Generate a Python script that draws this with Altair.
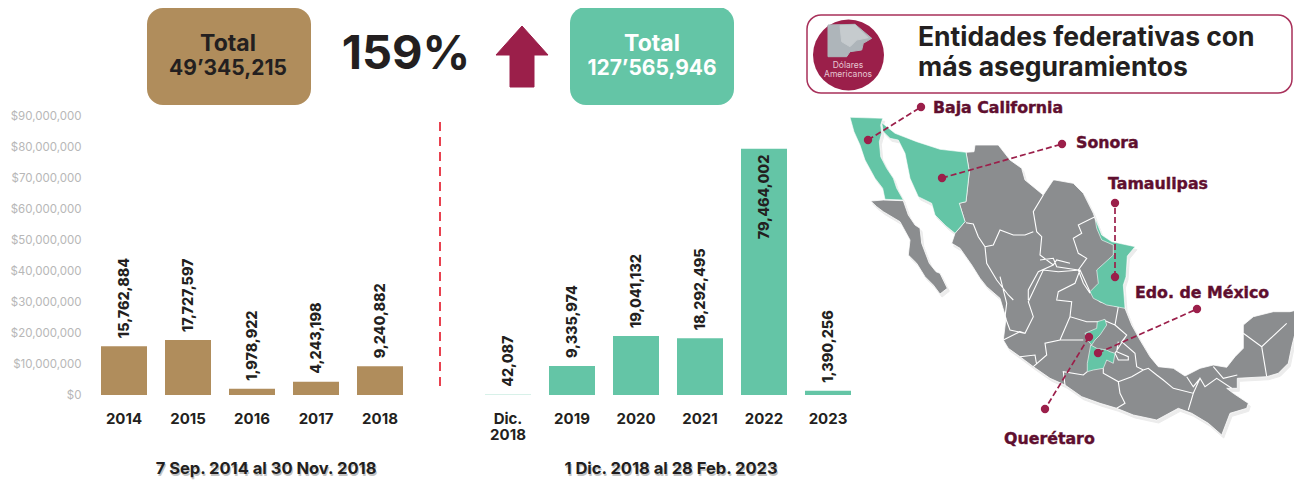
import altair as alt
import pandas as pd

FONT = "Inter"
WIDE = "DejaVu Sans"
OX, OY = 92, 116
BROWN, TEAL, CRIMSON, WINE, DARK = "#b08d5c", "#64c5a6", "#9b1f4a", "#5f0f2f", "#231f20"
GREY = "#8b8d8f"

# ---- bar data
categories = ["2014", "2015", "2016", "2017", "2018", " ", "Dic. 2018", "2019", "2020", "2021", "2022", "2023"]
values = [15762884, 17727597, 1978922, 4243198, 9240882, None, 42087, 9335974, 19041132, 18292495, 79464002, 1390256]
colors = [BROWN] * 6 + [TEAL] * 6
labels = ["15,762,884", "17,727,597", "1,978,922", "4,243,198", "9,240,882", "", "42,087", "9,335,974",
          "19,041,132", "18,292,495", "79,464,002", "1,390,256"]
bars = pd.DataFrame({"cat": categories, "val": values, "col": colors, "lab": labels}).dropna()

# ---- traced map outlines; three reference frames (origin of trace, 3x)
A, B, C = (840, 100), (1000, 260), (1040, 170)
def P(o, pts):
    return [[round(o[0] + x / 3, 1), round(o[1] + y / 3, 1)] for x, y in pts]

main_land = (
    P(A, [(378, 157), (402, 155), (405, 135), (475, 135), (510, 180), (545, 205), (555, 240), (610, 285), (640, 240)])
    + P(C, [(45, 30), (100, 40), (130, 70), (160, 130), (165, 145), (185, 195), (215, 215), (285, 230), (262, 258), (258, 320), (250, 345), (255, 415)])
    + P(B, [(395, 195), (420, 240), (450, 290), (475, 320), (520, 325), (555, 348), (600, 325), (640, 315), (680, 322), (705, 290), (730, 265),
            (730, 195), (760, 170), (820, 155), (870, 155), (890, 150), (905, 165), (890, 200), (875, 260), (865, 310), (835, 340), (800, 350),
            (712, 355), (712, 385), (680, 385), (700, 400), (745, 430), (740, 445), (690, 460), (665, 525), (625, 490), (575, 460), (535, 445),
            (470, 480), (400, 465), (350, 445), (300, 430), (245, 410), (195, 375), (150, 355), (100, 320), (60, 290), (25, 265), (10, 240), (18, 175)])
    + P(A, [(480, 595), (440, 560), (420, 535), (395, 495), (360, 445), (335, 430), (345, 400), (375, 365), (358, 310), (378, 305), (388, 215)])
)
baja_sur = P(A, [(92, 303), (130, 300), (190, 302), (205, 345), (225, 375), (240, 385), (245, 430), (268, 490), (288, 515), (300, 520),
                 (322, 565), (300, 582), (280, 555), (255, 530), (230, 490), (205, 465), (210, 420), (180, 365), (130, 335), (110, 320)])
baja_california = P(A, [(30, 52), (128, 55), (122, 75), (125, 100), (118, 125), (122, 170), (140, 205), (160, 235), (170, 265), (190, 300),
                        (135, 298), (128, 265), (105, 235), (75, 180), (60, 135), (42, 95)])
sonora = P(A, [(125, 68), (165, 100), (230, 125), (300, 148), (378, 157), (388, 215), (378, 305), (358, 310), (375, 365), (345, 400),
               (318, 378), (285, 345), (275, 310), (235, 290), (210, 235), (195, 160), (175, 120), (150, 115), (130, 95)])
tamaulipas = P(C, [(165, 145), (185, 195), (215, 215), (285, 230), (262, 258), (258, 320), (250, 345), (255, 415), (200, 405), (160, 385),
                   (150, 365), (175, 340), (170, 300), (220, 255), (220, 225), (185, 210), (170, 175)])
queretaro = P(B, [(255, 220), (290, 205), (292, 185), (315, 178), (320, 195), (300, 225), (285, 240), (275, 255), (262, 240)])
edomex = P(B, [(272, 255), (290, 265), (320, 270), (330, 275), (345, 280), (340, 310), (320, 300), (310, 325), (280, 330), (262, 335), (262, 310)])

state_lines = [
    P(A, [(378, 368), (400, 372), (415, 410), (435, 440), (440, 490), (470, 540), (505, 585), (520, 600)]),
    P(A, [(610, 285), (580, 335), (590, 395), (605, 410), (600, 465), (640, 495), (650, 480), (690, 490)]),
    P(A, [(435, 440), (460, 435), (480, 390), (520, 405), (555, 405), (580, 395)]),
    P(A, [(640, 495), (595, 515), (565, 570), (565, 600)]),
    P(C, [(165, 140), (115, 165), (125, 190), (100, 205), (115, 250), (140, 265), (115, 300), (130, 340), (150, 370)]),
    P(C, [(0, 270), (40, 265), (50, 290), (115, 300)]),
    P(B, [(0, 50), (20, 130), (15, 170), (30, 210), (75, 220), (100, 170), (85, 125), (130, 30), (175, 35), (240, 30), (225, 70),
          (175, 95), (170, 120), (215, 125), (210, 170), (260, 185), (300, 185)]),
    P(B, [(240, 30), (270, 95), (300, 125), (355, 140), (345, 195), (310, 180)]),
    P(B, [(10, 240), (60, 215), (75, 220)]),
    P(B, [(210, 170), (180, 240), (135, 250), (140, 285), (100, 320)]),
    P(B, [(60, 290), (105, 285), (110, 315)]),
    P(B, [(180, 240), (250, 240)]),
    P(B, [(262, 335), (250, 345), (190, 335), (195, 375)]),
    P(B, [(310, 325), (310, 340), (355, 365), (360, 400), (375, 430), (350, 445)]),
    P(B, [(355, 365), (395, 350), (430, 330), (445, 325), (470, 345), (490, 360), (520, 385), (580, 400), (565, 450)]),
    P(B, [(345, 195), (380, 225), (365, 245), (405, 280), (410, 320), (430, 330)]),
    P(B, [(580, 400), (600, 355), (615, 380), (650, 355), (695, 385)]),
    P(B, [(560, 350), (580, 380), (600, 355)]),
    P(B, [(640, 320), (670, 355), (712, 345)]),
    P(B, [(730, 220), (785, 260), (860, 190)]),
    P(B, [(785, 260), (800, 350)]),
    P(B, [(355, 245), (350, 275), (385, 290), (385, 300), (355, 300), (345, 280)]),
    P(B, [(345, 280), (380, 225)]),
]

# ---- callouts: marker on the state, marker at the end of the leader, label
callouts = [
    ("Baja California", (868, 140), (921, 107), (933, 108)),
    ("Sonora", (942, 178), (1062, 144), (1076, 143)),
    ("Tamaulipas", (1115, 277), (1115, 203), (1108, 184)),
    ("Edo. de México", (1098, 353), (1197, 309), (1135, 293)),
    ("Querétaro", (1089, 337), (1045, 409), (1004, 439)),
]
arrow = [[496, 55], [522, 26], [548, 55], [534, 55], [534, 87], [510, 87], [510, 55]]
coin_photo = P((800, 5), [(84, 60), (165, 58), (215, 100), (190, 115), (185, 135), (150, 140), (140, 155), (84, 155)])
coin_light = P((800, 5), [(120, 62), (165, 60), (205, 98), (170, 105), (150, 125), (125, 110)])

PROJ = dict(type="identity", scale=1, translate=[-OX, -OY])

def poly(pts, fill, stroke=None, sw=1.0):
    f = {"type": "Feature", "properties": {}, "geometry": {"type": "Polygon", "coordinates": [pts + [pts[0]]]}}
    kw = dict(fill=fill, strokeWidth=sw, stroke=stroke or fill, clip=False)
    return alt.Chart(alt.Data(values=[f])).mark_geoshape(**kw).project(**PROJ)

def lines(ls, stroke, sw, dash=None):
    f = {"type": "Feature", "properties": {}, "geometry": {"type": "MultiLineString", "coordinates": ls}}
    kw = dict(filled=False, stroke=stroke, strokeWidth=sw, clip=False)
    if dash:
        kw["strokeDash"] = dash
    return alt.Chart(alt.Data(values=[f])).mark_geoshape(**kw).project(**PROJ)

def text(s, x, y, size, color=DARK, align="center", weight=700, font=FONT, heavy=0):
    d = pd.DataFrame({"t": [s], "x": [x], "y": [y]})
    kw = dict(stroke=color, strokeWidth=heavy) if heavy else {}
    return alt.Chart(d).mark_text(font=font, fontSize=size, color=color, align=align, baseline="middle", fontWeight=weight, clip=False, **kw).encode(
        longitude="x:Q", latitude="y:Q", text="t:N").project(**PROJ)

def box(x0, y0, x1, y1, fill, stroke=None, r=16):
    kw = dict(fill=fill, cornerRadius=r)
    if stroke:
        kw.update(stroke=stroke, strokeWidth=1.5)
    return alt.Chart(pd.DataFrame({"a": [0]})).mark_rect(**kw).encode(
        x=alt.value(x0 - OX), x2=alt.value(x1 - OX), y=alt.value(y0 - OY), y2=alt.value(y1 - OY))

# ---- bars with the library's scales
x_scale = alt.Scale(domain=categories, paddingInner=0.28125, paddingOuter=0.140625)
y_scale = alt.Scale(domain=[0, 90000000], nice=False)
x_axis = alt.Axis(title=None, domain=False, ticks=False, labelAngle=0, labelFont=FONT, labelFontSize=15, labelFontWeight=700,
                  labelColor=DARK, labelPadding=23, labelBaseline="middle", labelLineHeight=16,
                  labelExpr="split(datum.label, ' ')")
y_axis = alt.Axis(title=None, domain=False, ticks=False, grid=False, values=[i * 10000000 for i in range(10)], format="$,.0f",
                  labelFont=FONT, labelFontSize=11.5, labelColor="#b7b7b7", labelPadding=11, labelOverlap=False, labelSeparation=0)
x_enc = alt.X("cat:N", sort=categories, scale=x_scale, axis=x_axis)
y_enc = alt.Y("val:Q", scale=y_scale, axis=y_axis)
bar_layer = alt.Chart(bars).mark_bar().encode(x=x_enc, y=y_enc, color=alt.Color("col:N", scale=None))
up = bars[bars["cat"] != "2022"]
inner = bars[bars["cat"] == "2022"]
lab_kw = dict(font=FONT, fontSize=14.3, fontWeight=800, color=DARK, angle=270, baseline="middle")
lab_up = alt.Chart(up).mark_text(align="left", dx=8, dy=1, **lab_kw).encode(x=x_enc, y=y_enc, text="lab:N")
lab_in = alt.Chart(inner).mark_text(align="right", dx=-6, dy=1, **lab_kw).encode(x=x_enc, y=y_enc, text="lab:N")

sep = alt.Chart(pd.DataFrame({"a": [0]})).mark_rule(color="#e8414f", strokeWidth=2, strokeDash=[9, 6]).encode(
    x=alt.value(440 - OX), y=alt.value(122 - OY), y2=alt.value(386 - OY))

layers = [
    box(147, 8, 311, 105, BROWN),
    box(570, 7, 734, 105, TEAL),
    text("Total", 228, 44, 23),
    text("49’345,215", 228, 69, 21),
    text("Total", 652, 44, 23, "#ffffff"),
    text("127’565,946", 652, 69, 21, "#ffffff"),
    text("159%", 406, 55, 47),
    poly(arrow, CRIMSON),
    box(807, 15, 1292, 93, "#ffffff", "#a8305a", 14),
]
coin = pd.DataFrame({"x": [848.5], "y": [55]})
layers += [
    alt.Chart(coin).mark_circle(size=71 * 71, color=CRIMSON, opacity=1, clip=False).encode(longitude="x:Q", latitude="y:Q").project(**PROJ),
    poly(coin_photo, "#aeb5ba"),
    poly(coin_light, "#c6cbce"),
    text("Dólares", 848, 65, 8.5, "#e6c6d2", weight=400),
    text("Americanos", 848, 74, 8.5, "#e6c6d2", weight=400),
    text("Entidades federativas con", 918, 38, 26.5, align="left"),
    text("más aseguramientos", 918, 68, 26.5, align="left"),
]
# map, shadow first
for pts in [main_land, baja_sur, baja_california, sonora]:
    layers.append(poly([[x + 2, y + 3] for x, y in pts], "#ececec"))
layers += [
    poly(main_land, GREY, "#ffffff", 0.8),
    poly(baja_sur, GREY, "#ffffff", 0.8),
    lines(state_lines, "#ffffff", 1.1),
    poly(baja_california, TEAL, "#ffffff", 0.6),
    poly(sonora, TEAL, "#ffffff", 0.6),
    poly(tamaulipas, TEAL, "#ffffff", 0.6),
    poly(queretaro, TEAL, "#ffffff", 0.6),
    poly(edomex, TEAL, "#ffffff", 0.6),
    lines([[list(a), list(b)] for _, a, b, _ in callouts], CRIMSON, 1.7, [6, 3]),
]
dots = pd.DataFrame([{"x": p[0], "y": p[1]} for _, a, b, _ in callouts for p in (a, b)])
layers.append(alt.Chart(dots).mark_circle(size=70, color=CRIMSON, opacity=1, clip=False).encode(longitude="x:Q", latitude="y:Q").project(**PROJ))
for name, _, _, (lx, ly) in callouts:
    layers.append(text(name, lx, ly, 15.8, WINE, align="left", weight=700, font=WIDE, heavy=0.4))

layers += [bar_layer, lab_up, lab_in, sep]
for s, cx in [("7 Sep. 2014 al 30 Nov. 2018", 266), ("1 Dic. 2018 al 28 Feb. 2023", 671)]:
    layers.append(text(s, cx + 1, 471, 16.5, "#c4c4c4"))
    layers.append(text(s, cx, 469, 16.5))

chart = alt.layer(*layers).properties(
    width=768, height=279,
    padding={"left": OX - 8, "top": OY - 8, "right": 1294 - 860, "bottom": 483 - 395},
    autosize=alt.AutoSizeParams(type="none"),
).configure_view(stroke=None)

chart.save("out.html", embed_options={"renderer": "svg", "actions": False})
